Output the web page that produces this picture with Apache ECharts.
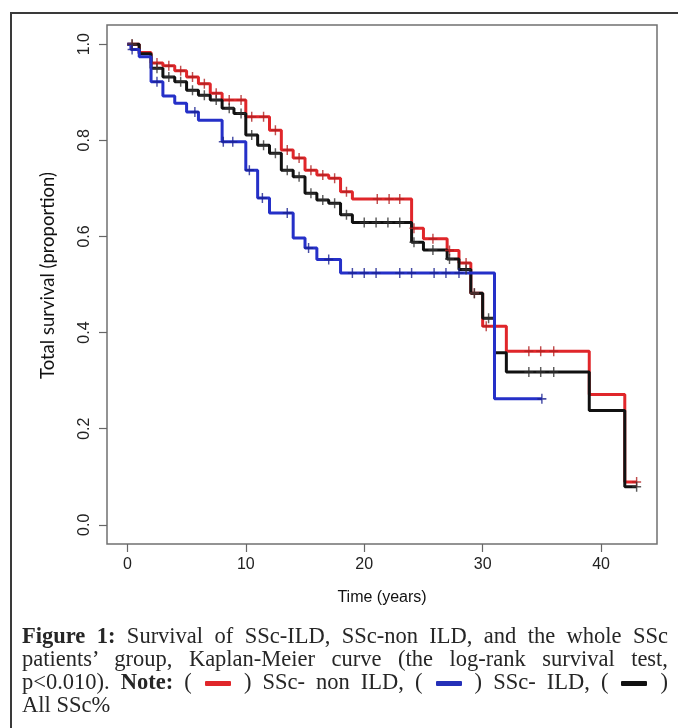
<!DOCTYPE html>
<html>
	<head>
		<meta charset="utf-8" />
		<title>Kaplan-Meier SSc</title>
		<script src="https://cdn.jsdelivr.net/npm/echarts@6/dist/echarts.min.js"></script>
		<style>
			html, body { margin: 0; padding: 0; background: #fff; }
			#page { position: relative; width: 678px; height: 728px; overflow: hidden; }
			#frame { position: absolute; left: 10px; top: 12px; width: 670px; height: 720px;
				border-left: 2px solid #3a3a3a; border-top: 2px solid #3a3a3a; }
			#chart { position: absolute; left: 0; top: 0; width: 678px; height: 728px; }
			#caption { position: absolute; left: 22px; top: 624px; width: 646px;
				font-family: "Liberation Serif", "DejaVu Serif", serif; font-size: 22.5px;
				line-height: 23px; color: #262626; }
			#caption div { text-align: justify; text-align-last: justify; white-space: nowrap; }
			#caption div.last { text-align-last: left; }
			#caption b { font-weight: bold; }
			.sw { display: inline-block; width: 26px; height: 5px; vertical-align: middle;
				margin: 0 2px; border-radius: 1px; }
		</style>
	</head>
	<body>
		<div id="page">
			<div id="frame"></div>
			<div id="chart"></div>
			<div id="caption">
				<div><b>Figure 1:</b> Survival of SSc-ILD, SSc-non ILD, and the whole SSc</div>
				<div>patients’ group, Kaplan-Meier curve (the log-rank survival test,</div>
				<div>p&lt;0.010). <b>Note:</b> ( <span class="sw" style="background:#e0262a"></span> ) SSc- non ILD, ( <span class="sw" style="background:#2530b8"></span> ) SSc- ILD, ( <span class="sw" style="background:#111"></span> )</div>
				<div class="last">All SSc%</div>
			</div>
		</div>
		<script>
			// tick labels
			var xTicks = [0, 10, 20, 30, 40];
			var yTicks = [0, 0.2, 0.4, 0.6, 0.8, 1.0];

			// SSc- non ILD (red): event times and survival after each step
			var redTimes = [0, 1, 2, 3, 4, 5, 6, 7, 8, 10, 12, 13, 14, 15, 16, 17, 18, 19, 24, 25, 27, 28, 29, 30, 32, 39, 42, 43];
			var redSurv = [1.0, 0.983, 0.961, 0.955, 0.945, 0.932, 0.918, 0.898, 0.884, 0.849, 0.821, 0.780, 0.763, 0.738, 0.728, 0.721, 0.693, 0.678, 0.617, 0.595, 0.571, 0.545, 0.482, 0.413, 0.361, 0.271, 0.089, 0.089];
			var redCens = [0.4, 2.5, 3.5, 4.5, 5.5, 6.5, 7.5, 8.6, 9.6, 10.5, 11.5, 12.5, 13.5, 14.5, 15.5, 16.5, 17.5, 18.5, 21.1, 22.1, 23, 24.2, 25.8, 27.2, 28.6, 29.3, 30.3, 33.9, 34.9, 36, 43];

			// SSc- ILD (blue)
			var blueTimes = [0, 0.3, 1, 2, 3, 4, 5, 6, 8, 10, 11, 12, 14, 15, 16, 18, 31, 35];
			var blueSurv = [1.0, 0.989, 0.974, 0.922, 0.892, 0.877, 0.859, 0.842, 0.797, 0.738, 0.680, 0.649, 0.597, 0.576, 0.552, 0.524, 0.262, 0.262];
			var blueCens = [0.4, 2.5, 5.7, 8.1, 8.9, 10.3, 11.4, 13.5, 15.3, 17, 19, 20, 21, 23, 24, 25.9, 26.9, 28, 35];

			// All SSc (black)
			var blackTimes = [0, 1, 2, 3, 4, 5, 6, 7, 8, 9, 10, 11, 12, 13, 14, 15, 16, 17, 18, 19, 24, 25, 27, 28, 29, 30, 31, 32, 39, 42, 43];
			var blackSurv = [1.0, 0.980, 0.950, 0.932, 0.922, 0.904, 0.894, 0.884, 0.867, 0.856, 0.811, 0.790, 0.773, 0.738, 0.724, 0.690, 0.676, 0.669, 0.645, 0.629, 0.588, 0.572, 0.553, 0.531, 0.482, 0.430, 0.358, 0.318, 0.238, 0.079, 0.079];
			var blackCens = [0.4, 2.5, 3.5, 4.5, 5.5, 6.5, 7.5, 8.6, 9.6, 10.5, 11.5, 12.5, 13.5, 14.5, 15.5, 16.5, 17.5, 18.5, 20, 21, 22, 23, 24.2, 25.8, 27.2, 28.6, 29.3, 30.5, 33.9, 34.9, 36, 43];

			function steps(times, surv) {
				return times.map(function(t, i) { return [t, surv[i]]; });
			}
			// survival value at time t (for the censor marks)
			function survAt(times, surv, t) {
				var s = surv[0];
				for (var i = 0; i < times.length; i++) {
					if (times[i] <= t) s = surv[i];
				}
				return s;
			}
			function marks(times, surv, cens) {
				return cens.map(function(t) { return [t, survAt(times, surv, t)]; });
			}

			var plus = 'path://M4.2,0 H5.8 V10 H4.2 Z M0,4.2 H10 V5.8 H0 Z';
			function lineSeries(data, color, z) {
				return { type: 'line', step: 'end', data: data, showSymbol: false, z: z,
					lineStyle: { color: color, width: 3 }, silent: true };
			}
			function censSeries(data, color, z) {
				return { type: 'scatter', data: data, symbol: plus, symbolSize: [9, 10], z: z,
					itemStyle: { color: color, opacity: 0.8 }, silent: true };
			}

			var labelFont = { fontFamily: 'Liberation Sans', fontSize: 16, color: '#222' };
			var chart = echarts.init(document.getElementById('chart'));
			var option = {
				animation: false,
				grid: { left: 107, top: 25, width: 550, height: 519, show: true,
					borderColor: '#707070', borderWidth: 1.5, backgroundColor: 'transparent' },
				xAxis: {
					type: 'value', min: -1.72, max: 44.72,
					axisLine: { show: false, onZero: false }, splitLine: { show: false },
					axisTick: { show: true, length: 8, customValues: xTicks, lineStyle: { color: '#666', width: 1.2 } },
					axisLabel: Object.assign({ customValues: xTicks, margin: 13 }, labelFont),
					name: 'Time (years)', nameLocation: 'middle', nameGap: 46,
					nameTextStyle: { fontFamily: 'Liberation Sans', fontSize: 16, color: '#111' }
				},
				yAxis: {
					type: 'value', min: -0.04, max: 1.04,
					axisLine: { show: false, onZero: false }, splitLine: { show: false },
					axisTick: { show: true, length: 8, customValues: yTicks, lineStyle: { color: '#666', width: 1.2 } },
					axisLabel: Object.assign({ customValues: yTicks, margin: 14, rotate: 90,
						formatter: function(v) { return v.toFixed(1); } }, labelFont),
					name: 'Total survival (proportion)', nameLocation: 'middle', nameGap: 49,
					nameTextStyle: { fontFamily: 'Lato', fontSize: 18.5, color: '#111', padding: [0, 0, 0, 18] }
				},
				series: [
					lineSeries(steps(redTimes, redSurv), '#e0262a', 2),
					lineSeries(steps(blackTimes, blackSurv), '#111111', 3),
					lineSeries(steps(blueTimes, blueSurv), '#2530c8', 4),
					censSeries(marks(redTimes, redSurv, redCens), '#b02020', 5),
					censSeries(marks(blackTimes, blackSurv, blackCens), '#333333', 5),
					censSeries(marks(blueTimes, blueSurv, blueCens), '#1a2290', 5)
				]
			};
			chart.setOption(option);
		</script>
	</body>
</html>
